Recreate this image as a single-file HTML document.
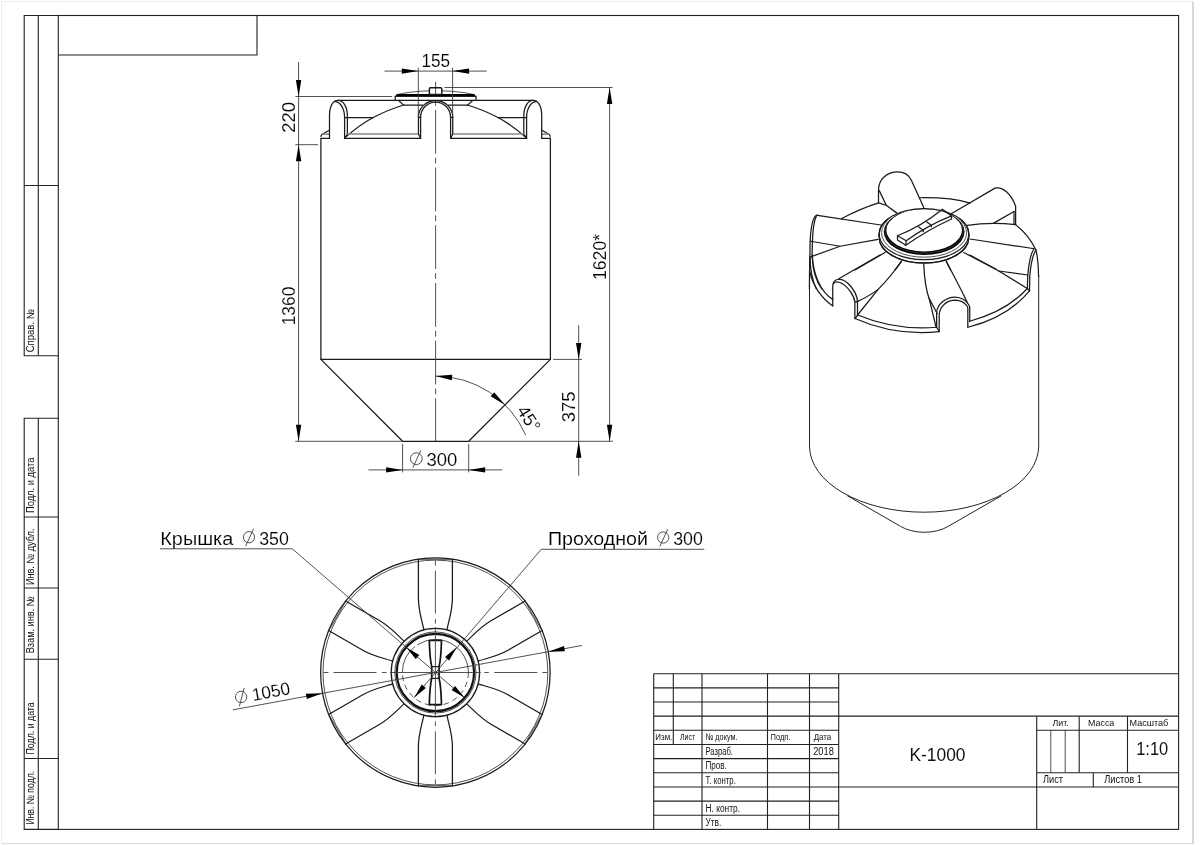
<!DOCTYPE html>
<html lang="ru"><head><meta charset="utf-8"><title>K-1000</title>
<style>
html,body{margin:0;padding:0;background:#fff;}
body{width:1200px;height:845px;overflow:hidden;position:relative;}
svg{position:absolute;left:0;top:0;display:block;will-change:transform;}
.f{stroke:#222;stroke-width:1.1;fill:none;}
.t{stroke:#3a3a3a;stroke-width:0.88;fill:none;}
.m{stroke:#1a1a1a;stroke-width:1.25;fill:none;stroke-linecap:round;stroke-linejoin:round;}
.n{stroke:#222;stroke-width:1.0;fill:none;}
.k{stroke:#111;stroke-width:1.9;fill:none;}
.g{stroke:#888;stroke-width:1.6;fill:none;}
.ar{fill:#000;stroke:none;}
.m,.t,.k,.g{vector-effect:non-scaling-stroke;}
text{fill:#111;}
.d{font-family:"Liberation Sans", "DejaVu Sans", sans-serif;stroke:#fff;stroke-width:.12px;fill:#000;}
.s{font-family:"Liberation Sans", sans-serif;}
</style></head><body>
<svg width="1200" height="845" viewBox="0 0 1200 845">
<rect x="1.5" y="1.5" width="1191.5" height="842" fill="none" stroke="#ececec" stroke-width="1"/>
<line x1="1193" y1="2" x2="1193" y2="844" stroke="#cfcfcf" stroke-width="1.4"/>
<line x1="2" y1="843.6" x2="1193" y2="843.6" stroke="#dedede" stroke-width="1.2"/>
<rect class="f" x="58.3" y="15.5" width="1120.3" height="813.9"/>
<path class="f" d="M58.3,55 H257 V15.5" />
<path class="f" d="M58.3,15.5 H24.2 V355.8 H58.3" />
<path class="f" d="M58.3,418.3 H24.2 V829.4 H58.3" />
<line class="f" x1="38.30" y1="15.50" x2="38.30" y2="355.80" />
<line class="f" x1="24.20" y1="185.50" x2="58.30" y2="185.50" />
<line class="f" x1="38.30" y1="418.30" x2="38.30" y2="829.40" />
<line class="f" x1="24.20" y1="517.00" x2="58.30" y2="517.00" />
<line class="f" x1="24.20" y1="588.00" x2="58.30" y2="588.00" />
<line class="f" x1="24.20" y1="659.30" x2="58.30" y2="659.30" />
<line class="f" x1="24.20" y1="758.50" x2="58.30" y2="758.50" />
<text class="s" x="34.40" y="352.30" font-size="10.6" text-anchor="start" transform="rotate(-90 34.40 352.30)" textLength="43.3" lengthAdjust="spacingAndGlyphs" >Справ. №</text>
<text class="s" x="34.40" y="513.10" font-size="10.6" text-anchor="start" transform="rotate(-90 34.40 513.10)" textLength="55.6" lengthAdjust="spacingAndGlyphs" >Подл. и дата</text>
<text class="s" x="34.40" y="585.10" font-size="10.6" text-anchor="start" transform="rotate(-90 34.40 585.10)" textLength="56.6" lengthAdjust="spacingAndGlyphs" >Инв. № дубл.</text>
<text class="s" x="34.40" y="653.30" font-size="10.6" text-anchor="start" transform="rotate(-90 34.40 653.30)" textLength="57" lengthAdjust="spacingAndGlyphs" >Взам. инв. №</text>
<text class="s" x="34.40" y="754.50" font-size="10.6" text-anchor="start" transform="rotate(-90 34.40 754.50)" textLength="52.2" lengthAdjust="spacingAndGlyphs" >Подл. и дата</text>
<text class="s" x="34.40" y="824.60" font-size="10.6" text-anchor="start" transform="rotate(-90 34.40 824.60)" textLength="53.7" lengthAdjust="spacingAndGlyphs" >Инв. № подл.</text>
<line class="f" x1="653.70" y1="673.70" x2="838.70" y2="673.70" />
<line class="f" x1="653.70" y1="687.85" x2="838.70" y2="687.85" />
<line class="f" x1="653.70" y1="702.01" x2="838.70" y2="702.01" />
<line class="f" x1="653.70" y1="716.16" x2="838.70" y2="716.16" />
<line class="f" x1="653.70" y1="730.32" x2="838.70" y2="730.32" />
<line class="f" x1="653.70" y1="744.47" x2="838.70" y2="744.47" />
<line class="f" x1="653.70" y1="758.63" x2="838.70" y2="758.63" />
<line class="f" x1="653.70" y1="772.78" x2="838.70" y2="772.78" />
<line class="f" x1="653.70" y1="786.94" x2="838.70" y2="786.94" />
<line class="f" x1="653.70" y1="801.09" x2="838.70" y2="801.09" />
<line class="f" x1="653.70" y1="815.25" x2="838.70" y2="815.25" />
<line class="f" x1="653.70" y1="673.70" x2="653.70" y2="829.40" />
<line class="f" x1="673.30" y1="673.70" x2="673.30" y2="744.47" />
<line class="f" x1="702.00" y1="673.70" x2="702.00" y2="829.40" />
<line class="f" x1="767.50" y1="673.70" x2="767.50" y2="829.40" />
<line class="f" x1="809.50" y1="673.70" x2="809.50" y2="829.40" />
<line class="f" x1="838.70" y1="673.70" x2="838.70" y2="829.40" />
<line class="f" x1="838.70" y1="673.70" x2="1178.60" y2="673.70" />
<line class="f" x1="838.70" y1="716.16" x2="1178.60" y2="716.16" />
<line class="f" x1="838.70" y1="786.94" x2="1178.60" y2="786.94" />
<line class="f" x1="1036.70" y1="716.16" x2="1036.70" y2="829.40" />
<line class="f" x1="1036.70" y1="730.32" x2="1178.60" y2="730.32" />
<line class="f" x1="1036.70" y1="772.78" x2="1178.60" y2="772.78" />
<line class="f" x1="1079.20" y1="716.16" x2="1079.20" y2="772.78" />
<line class="f" x1="1127.50" y1="716.16" x2="1127.50" y2="772.78" />
<line class="t" x1="1050.80" y1="730.32" x2="1050.80" y2="772.78" />
<line class="t" x1="1065.20" y1="730.32" x2="1065.20" y2="772.78" />
<line class="f" x1="1093.30" y1="772.78" x2="1093.30" y2="786.94" />
<text class="s" x="655.30" y="740.20" font-size="9.6" text-anchor="start" textLength="17" lengthAdjust="spacingAndGlyphs" >Изм.</text>
<text class="s" x="680.00" y="740.20" font-size="9.6" text-anchor="start" textLength="15.2" lengthAdjust="spacingAndGlyphs" >Лист</text>
<text class="s" x="705.50" y="740.20" font-size="9.6" text-anchor="start" textLength="32" lengthAdjust="spacingAndGlyphs" >№ докум.</text>
<text class="s" x="770.50" y="740.20" font-size="9.6" text-anchor="start" textLength="20" lengthAdjust="spacingAndGlyphs" >Подп.</text>
<text class="s" x="813.70" y="740.20" font-size="9.6" text-anchor="start" textLength="17.6" lengthAdjust="spacingAndGlyphs" >Дата</text>
<text class="s" x="705.50" y="755.00" font-size="10" text-anchor="start" textLength="27.5" lengthAdjust="spacingAndGlyphs" >Разраб.</text>
<text class="s" x="813.20" y="755.00" font-size="10" text-anchor="start" textLength="20.6" lengthAdjust="spacingAndGlyphs" >2018</text>
<text class="s" x="705.50" y="769.30" font-size="10" text-anchor="start" textLength="21.3" lengthAdjust="spacingAndGlyphs" >Пров.</text>
<text class="s" x="705.50" y="783.60" font-size="10" text-anchor="start" textLength="30.3" lengthAdjust="spacingAndGlyphs" >Т. контр.</text>
<text class="s" x="705.50" y="812.00" font-size="10" text-anchor="start" textLength="34.5" lengthAdjust="spacingAndGlyphs" >Н. контр.</text>
<text class="s" x="705.50" y="826.20" font-size="10" text-anchor="start" textLength="15.8" lengthAdjust="spacingAndGlyphs" >Утв.</text>
<text class="s" x="1052.50" y="726.30" font-size="9.6" text-anchor="start" textLength="16.3" lengthAdjust="spacingAndGlyphs" >Лит.</text>
<text class="s" x="1088.00" y="726.30" font-size="9.6" text-anchor="start" textLength="26.3" lengthAdjust="spacingAndGlyphs" >Масса</text>
<text class="s" x="1129.50" y="726.30" font-size="9.6" text-anchor="start" textLength="38.8" lengthAdjust="spacingAndGlyphs" >Масштаб</text>
<text class="s" x="1043.00" y="782.50" font-size="10" text-anchor="start" textLength="20" lengthAdjust="spacingAndGlyphs" >Лист</text>
<text class="s" x="1104.20" y="782.50" font-size="10" text-anchor="start" textLength="37.8" lengthAdjust="spacingAndGlyphs" >Листов 1</text>
<text class="s" x="1136.20" y="755.00" font-size="18" text-anchor="start" textLength="32" lengthAdjust="spacingAndGlyphs" >1:10</text>
<text class="s" x="909.50" y="760.50" font-size="17.5" text-anchor="start" textLength="56" lengthAdjust="spacingAndGlyphs" >K-1000</text>
<path class="m" d="M320.9,138.3 V359.4 L402.6,441.3 H468.7 L550.4,359.4 V138.3" />
<line class="m" x1="320.90" y1="359.40" x2="550.40" y2="359.40" />
<line class="t" x1="435.60" y1="81.80" x2="435.60" y2="96.20" />
<line class="t" x1="435.6" y1="100" x2="435.6" y2="441.3" stroke-dasharray="5.8 4.1 43.7 4.1"/>
<path class="m" d="M320.90,138.3 H329.50" />
<path class="m" d="M321.00,136.4 Q321.20,135 322.30,134.3 L329.30,130.2" />
<line class="g" x1="322.50" y1="134.20" x2="329.30" y2="134.20" />
<path class="m" d="M329.50,138.3 V115.5 C329.50,106 333.00,100.4 338.00,100.4 C343.60,100.4 347.40,107 347.40,116.5 V134 L344.50,138.3" />
<path class="m" d="M334.60,101.4 C340.50,102 344.60,108.5 344.60,117.5 V138.3" />
<line class="m" x1="338.00" y1="100.40" x2="435.60" y2="100.40" />
<line class="m" x1="344.60" y1="117.50" x2="373.20" y2="117.50" />
<path class="m" d="M344.80,137.9 C356.00,128 366.00,121.3 373.20,117.5 C383.00,112.3 394.00,108 403.80,105" />
<line class="g" x1="347.40" y1="134.00" x2="418.40" y2="134.00" />
<line class="m" x1="344.50" y1="138.30" x2="420.60" y2="138.30" />
<path class="m" d="M420.60,138.3 L418.45,134 V117.3 C418.45,108 426.00,100.5 435.6,100.5" />
<path class="m" d="M420.60,138.3 V117.3 C420.60,109 427.30,102 435.6,102" />
<line class="m" x1="418.45" y1="117.30" x2="420.60" y2="117.30" />
<path class="m" d="M395.20,96.2 V100.4" />
<path class="m" d="M398.60,100.5 L403.60,105.1 H422.60" />
<path class="t" d="M396.40,94.8 Q410.00,91.4 429.20,90.8" />
<path class="m" d="M550.30,138.3 H541.70" />
<path class="m" d="M550.20,136.4 Q550.00,135 548.90,134.3 L541.90,130.2" />
<line class="g" x1="548.70" y1="134.20" x2="541.90" y2="134.20" />
<path class="m" d="M541.70,138.3 V115.5 C541.70,106 538.20,100.4 533.20,100.4 C527.60,100.4 523.80,107 523.80,116.5 V134 L526.70,138.3" />
<path class="m" d="M536.60,101.4 C530.70,102 526.60,108.5 526.60,117.5 V138.3" />
<line class="m" x1="533.20" y1="100.40" x2="435.60" y2="100.40" />
<line class="m" x1="526.60" y1="117.50" x2="498.00" y2="117.50" />
<path class="m" d="M526.40,137.9 C515.20,128 505.20,121.3 498.00,117.5 C488.20,112.3 477.20,108 467.40,105" />
<line class="g" x1="523.80" y1="134.00" x2="452.80" y2="134.00" />
<line class="m" x1="526.70" y1="138.30" x2="450.60" y2="138.30" />
<path class="m" d="M450.60,138.3 L452.75,134 V117.3 C452.75,108 445.20,100.5 435.6,100.5" />
<path class="m" d="M450.60,138.3 V117.3 C450.60,109 443.90,102 435.6,102" />
<line class="m" x1="452.75" y1="117.30" x2="450.60" y2="117.30" />
<path class="m" d="M476.00,96.2 V100.4" />
<path class="m" d="M472.60,100.5 L467.60,105.1 H448.60" />
<path class="t" d="M474.80,94.8 Q461.20,91.4 442.00,90.8" />
<path class="ar" d="M395.4,96.6 L397.2,94.2 H474 L475.8,96.6 Z" />
<path class="ar" d="M395.6,96.8 H475.6 L474.2,94 H397 Z" />
<rect class="m" x="429.4" y="87.8" width="12.4" height="6.6" rx="1" style="stroke-width:1.5"/>
<line class="t" x1="418.30" y1="67.60" x2="418.30" y2="117.30" />
<line class="t" x1="452.60" y1="67.60" x2="452.60" y2="117.30" />
<line class="t" x1="384.50" y1="71.10" x2="486.60" y2="71.10" />
<polygon class="ar" points="418.30,71.10 401.80,73.80 401.80,68.40"/>
<polygon class="ar" points="452.60,71.10 469.10,68.40 469.10,73.80"/>
<text class="d" x="421.55" y="66.60" font-size="18.5" text-anchor="start" textLength="28.6" lengthAdjust="spacingAndGlyphs" >155</text>
<line class="t" x1="298.60" y1="62.00" x2="298.60" y2="441.30" />
<line class="t" x1="295.40" y1="96.50" x2="392.20" y2="96.50" />
<line class="t" x1="295.40" y1="144.70" x2="318.00" y2="144.70" />
<polygon class="ar" points="298.60,96.50 295.90,80.00 301.30,80.00"/>
<polygon class="ar" points="298.60,144.70 301.30,161.20 295.90,161.20"/>
<text class="d" x="295.20" y="132.80" font-size="18.5" text-anchor="start" transform="rotate(-90 295.20 132.80)" >220</text>
<polygon class="ar" points="298.60,441.30 295.90,424.80 301.30,424.80"/>
<line class="t" x1="295.20" y1="441.30" x2="402.60" y2="441.30" />
<text class="d" x="295.20" y="325.30" font-size="18.5" text-anchor="start" transform="rotate(-90 295.20 325.30)" textLength="38.6" lengthAdjust="spacingAndGlyphs" >1360</text>
<line class="t" x1="444.40" y1="87.50" x2="612.60" y2="87.50" />
<line class="t" x1="609.60" y1="87.50" x2="609.60" y2="441.30" />
<polygon class="ar" points="609.60,87.50 612.30,104.00 606.90,104.00"/>
<polygon class="ar" points="609.60,441.30 606.90,424.80 612.30,424.80"/>
<line class="t" x1="468.70" y1="441.30" x2="612.80" y2="441.30" />
<text class="d" x="606.00" y="280.00" font-size="18.5" text-anchor="start" transform="rotate(-90 606.00 280.00)" textLength="46.1" lengthAdjust="spacingAndGlyphs" >1620*</text>
<line class="t" x1="578.70" y1="325.20" x2="578.70" y2="475.70" />
<line class="t" x1="553.20" y1="359.40" x2="582.00" y2="359.40" />
<polygon class="ar" points="578.70,359.40 576.00,342.90 581.40,342.90"/>
<polygon class="ar" points="578.70,441.30 581.40,457.80 576.00,457.80"/>
<text class="d" x="574.80" y="422.30" font-size="18.5" text-anchor="start" transform="rotate(-90 574.80 422.30)" >375</text>
<line class="t" x1="402.60" y1="443.90" x2="402.60" y2="472.40" />
<line class="t" x1="468.70" y1="443.90" x2="468.70" y2="472.40" />
<line class="t" x1="368.40" y1="469.90" x2="502.30" y2="469.90" />
<polygon class="ar" points="402.60,469.90 386.10,472.60 386.10,467.20"/>
<polygon class="ar" points="468.70,469.90 485.20,467.20 485.20,472.60"/>
<g><circle class="t" cx="416.30" cy="458.70" r="5.9"/><line class="t" x1="412.90" y1="467.70" x2="420.90" y2="450.30"/></g>
<text class="d" x="426.50" y="466.00" font-size="18.5" text-anchor="start" >300</text>
<path class="t" d="M435.60,376.10 A98.3,98.3 0 0 1 525.75,435.20" />
<polygon class="ar" points="435.60,376.10 452.27,374.85 451.80,380.23"/>
<polygon class="ar" points="505.11,404.89 490.73,396.35 494.20,392.22"/>
<text class="d" x="516.30" y="410.50" font-size="18" text-anchor="start" transform="rotate(57 516.30 410.50)" >45°</text>
<circle class="m" cx="435.4" cy="672.5" r="114.75"/>
<circle class="t" cx="435.4" cy="672.5" r="112.4"/>
<g transform="rotate(0 435.4 672.5)">
<path class="m" d="M452.40,559.00 V598.50 C452.40,610.50 448.90,620.50 447.00,629.30" />
<path class="m" d="M418.40,559.00 V598.50 C418.40,610.50 421.90,620.50 423.80,629.30" />
<line class="t" x1="418.40" y1="559.30" x2="452.40" y2="559.30" />
</g>
<g transform="rotate(60 435.4 672.5)">
<path class="m" d="M452.40,559.00 V598.50 C452.40,610.50 448.90,620.50 447.00,629.30" />
<path class="m" d="M418.40,559.00 V598.50 C418.40,610.50 421.90,620.50 423.80,629.30" />
<line class="t" x1="418.40" y1="559.30" x2="452.40" y2="559.30" />
</g>
<g transform="rotate(120 435.4 672.5)">
<path class="m" d="M452.40,559.00 V598.50 C452.40,610.50 448.90,620.50 447.00,629.30" />
<path class="m" d="M418.40,559.00 V598.50 C418.40,610.50 421.90,620.50 423.80,629.30" />
<line class="t" x1="418.40" y1="559.30" x2="452.40" y2="559.30" />
</g>
<g transform="rotate(180 435.4 672.5)">
<path class="m" d="M452.40,559.00 V598.50 C452.40,610.50 448.90,620.50 447.00,629.30" />
<path class="m" d="M418.40,559.00 V598.50 C418.40,610.50 421.90,620.50 423.80,629.30" />
<line class="t" x1="418.40" y1="559.30" x2="452.40" y2="559.30" />
</g>
<g transform="rotate(240 435.4 672.5)">
<path class="m" d="M452.40,559.00 V598.50 C452.40,610.50 448.90,620.50 447.00,629.30" />
<path class="m" d="M418.40,559.00 V598.50 C418.40,610.50 421.90,620.50 423.80,629.30" />
<line class="t" x1="418.40" y1="559.30" x2="452.40" y2="559.30" />
</g>
<g transform="rotate(300 435.4 672.5)">
<path class="m" d="M452.40,559.00 V598.50 C452.40,610.50 448.90,620.50 447.00,629.30" />
<path class="m" d="M418.40,559.00 V598.50 C418.40,610.50 421.90,620.50 423.80,629.30" />
<line class="t" x1="418.40" y1="559.30" x2="452.40" y2="559.30" />
</g>
<circle class="m" cx="435.4" cy="672.5" r="44.2" fill="#fff"/>
<circle class="t" cx="435.4" cy="672.5" r="40.6"/>
<circle class="k" cx="435.4" cy="672.5" r="38.7" style="stroke-width:2.2"/>
<path class="t" d="M402.4,672.5 A33,33 0 0 1 468.4,672.5" stroke-dasharray="30 2.5 60 0"/>
<path class="t" d="M468.4,672.5 A33,33 0 0 1 402.4,672.5" stroke-dasharray="5.5 4"/>
<path class="k" d="M429.29999999999995,640.4 H441.5 Q441.0,658.5 439.09999999999997,666.7 V678.3 Q441.0,686.5 441.5,704.6 H429.29999999999995 Q429.79999999999995,686.5 431.7,678.3 V666.7 Q429.79999999999995,658.5 429.29999999999995,640.4 Z" style="stroke-width:1.7;stroke-linejoin:round"/>
<line class="m" x1="431.70" y1="666.70" x2="439.10" y2="666.70" />
<line class="m" x1="431.70" y1="678.30" x2="439.10" y2="678.30" />
<g transform="rotate(0 435.4 672.5)">
<line class="t" x1="323.40" y1="672.50" x2="328.50" y2="672.50" />
<line class="t" x1="333.50" y1="672.50" x2="376.50" y2="672.50" />
<line class="t" x1="382.00" y1="672.50" x2="386.50" y2="672.50" />
<line class="t" x1="390.00" y1="672.50" x2="480.80" y2="672.50" />
<line class="t" x1="484.30" y1="672.50" x2="488.80" y2="672.50" />
<line class="t" x1="494.30" y1="672.50" x2="537.30" y2="672.50" />
<line class="t" x1="542.30" y1="672.50" x2="547.40" y2="672.50" />
</g>
<g transform="rotate(90 435.4 672.5)">
<line class="t" x1="323.40" y1="672.50" x2="328.50" y2="672.50" />
<line class="t" x1="333.50" y1="672.50" x2="376.50" y2="672.50" />
<line class="t" x1="382.00" y1="672.50" x2="386.50" y2="672.50" />
<line class="t" x1="390.00" y1="672.50" x2="480.80" y2="672.50" />
<line class="t" x1="484.30" y1="672.50" x2="488.80" y2="672.50" />
<line class="t" x1="494.30" y1="672.50" x2="537.30" y2="672.50" />
<line class="t" x1="542.30" y1="672.50" x2="547.40" y2="672.50" />
</g>
<line class="t" x1="232.82" y1="709.86" x2="581.93" y2="645.47" />
<polygon class="ar" points="322.55,693.31 306.82,698.96 305.84,693.65"/>
<polygon class="ar" points="548.25,651.69 563.98,646.04 564.96,651.35"/>
<g transform="rotate(-10.45 232.82 709.86)">
<g><circle class="t" cx="243.32" cy="698.66" r="5.7"/><line class="t" x1="239.92" y1="707.66" x2="247.92" y2="690.26"/></g>
<text class="d" x="254.42" y="704.86" font-size="17.8" text-anchor="start" textLength="38.4" lengthAdjust="spacingAndGlyphs" >1050</text>
</g>
<path class="t" d="M160,548.8 H292.3 L464.65,697.84" />
<polygon class="ar" points="406.15,647.16 419.25,654.94 415.72,659.02"/>
<polygon class="ar" points="464.65,697.84 451.55,690.06 455.08,685.98"/>
<text class="d" x="160.30" y="544.60" font-size="17.6" text-anchor="start" textLength="73" lengthAdjust="spacingAndGlyphs" >Крышка</text>
<g><circle class="t" cx="249.00" cy="537.20" r="5.6"/><line class="t" x1="245.60" y1="546.20" x2="253.60" y2="528.80"/></g>
<text class="d" x="259.20" y="544.60" font-size="17.8" text-anchor="start" >350</text>
<path class="t" d="M704.3,549.3 H541.3 L414.06,697.67" />
<polygon class="ar" points="456.74,647.33 449.10,660.52 444.98,657.03"/>
<polygon class="ar" points="414.06,697.67 421.70,684.48 425.82,687.97"/>
<text class="d" x="548.00" y="545.00" font-size="17.6" text-anchor="start" textLength="100" lengthAdjust="spacingAndGlyphs" >Проходной</text>
<g><circle class="t" cx="663.20" cy="537.50" r="5.6"/><line class="t" x1="659.80" y1="546.50" x2="667.80" y2="529.10"/></g>
<text class="d" x="673.20" y="545.00" font-size="17.8" text-anchor="start" >300</text>
<path class="n" d="M809.5,257 V446 A114.6,66.2 0 0 0 1038.7,446 V275" />
<path class="n" d="M847.3,495.7 L900.5,526.3 A32.8,19 0 0 0 948.3,526.3 L1001.5,495.7" />
<g transform="translate(800,165) scale(0.125000)">
<path class="m" d="M628,300 V200 C628,110 700,55 780,55 C830,55 868,75 890,120 L990,340" />
<path class="m" d="M634,205 L690,322 L775,385" />
<path class="m" d="M330,430 Q480,350 628,303 L690,322" />
<path class="m" d="M140,403 L660,482" />
<path class="m" d="M85,610 L320,650" />
<path class="m" d="M85,735 L320,650 L625,595" />
<path class="m" d="M440,840 L680,700" />
<path class="m" d="M760,840 L812,772" />
</g>
<g transform="translate(795,205) scale(0.099404)">
<path class="m" d="M225,100 C185,110 160,200 152,370 L150,520 C146,640 145,760 145,845" />
<path class="m" d="M215,110 C190,160 178,280 175,370 L172,520 C178,640 215,770 270,845" />
<path class="m" d="M150,520 C152,640 175,760 215,845" />
</g>
<g transform="translate(930,165) scale(0.125000)">
<path class="m" d="M170,390 L520,185 C580,170 650,230 685,330 V475" />
<path class="m" d="M672,372 V470" />
<path class="m" d="M672,372 L510,465" />
<path class="m" d="M-85,262 Q170,258 320,305" />
<path class="m" d="M298,483 Q480,455 685,477" />
<path class="m" d="M685,477 Q790,560 843,672" />
<path class="m" d="M320,592 L835,670" />
<path class="m" d="M270,700 L530,835" />
<path class="m" d="M130,770 L165,840" />
</g>
<g transform="translate(800,255) scale(0.125000)">
<path class="m" d="M78,130 C100,250 180,350 262,408" />
<path class="m" d="M98,0 C105,150 160,290 262,355" />
<path class="m" d="M262,406 V255 C262,225 275,200 300,196 C330,190 365,205 395,238 C425,270 445,305 455,340 C458,352 460,365 460,380 V476" />
<path class="m" d="M268,228 C280,215 300,213 315,218 C345,228 380,260 405,295 C425,325 436,350 439,375 V505" />
<path class="m" d="M439,375 L460,372" />
<path class="m" d="M310,190 L640,0" />
<path class="m" d="M455,375 Q560,325 625,275 C700,200 770,110 810,50" />
<path class="m" d="M462,478 L625,275" />
<path class="m" d="M440,508 Q760,650 1113,613" />
<path class="m" d="M462,480 Q760,605 1093,578" />
<path class="m" d="M440,508 L462,480" />
<path class="m" d="M990,75 C995,200 1015,300 1035,355 L1088,575" />
<path class="m" d="M1032,345 L1097,468" />
</g>
<g transform="translate(930,255) scale(0.125000)">
<path class="m" d="M320,0 L550,128 L778,268" />
<path class="m" d="M550,128 L782,160" />
<path class="m" d="M302.6,578 Q620,500 798,285" />
<path class="m" d="M318,530 Q610,450 775,272" />
<path class="m" d="M53,578 V458 C58,395 125,336 201,336 C250,337 290,365 305,391 C313,400 318,410 318,425 V531" />
<path class="m" d="M73.5,612 V474 C80,410 135,361 201,361 C245,362 280,385 295,407 C300,412 302.6,420 302.6,430 V578" />
<path class="m" d="M53,578 L73.5,612" />
<path class="m" d="M130,50 C170,130 232,240 297,377" />
</g>
<g transform="translate(870,195) scale(0.091667)">
<path class="m" d="M100,427 V465 A489,279 0 0 0 1078,465 V427 A489,279 0 0 0 100,427 Z" fill="#fff" stroke="none"/>
<path class="m" d="M100,427 V452 M1078,427 V452" />
<path class="m" d="M1067.3,520.0 A489,279 0 0 1 110.7,520.0" />
<path class="m" d="M974.3,255.2 A489,279 0 1 1 203.7,255.2" />
<path class="t" d="M991.8,280.5 A464,265 0 1 1 188.2,280.5" />
<path class="ar" d="M150,402 A441,252 0 1 0 1032,402 A441,252 0 1 0 150,402 Z M178,384 A413,232 0 1 1 1004,384 A413,232 0 1 1 178,384 Z" fill-rule="evenodd"/>
<path class="t" d="M992.2,309.6 A427,241 0 1 1 189.8,309.6" stroke="#000"/>
<path class="m" d="M300,445 Q567,337 790,155 L890,228 Q628,330 395,500 Z" fill="#fff"/>
<path class="m" d="M300,445 V490 L390,548 L395,500" />
<path class="m" d="M390,548 Q650,370 890,262 V228" />
<path class="m" d="M528,347 L581,384 M616,293 L669,330 M581,384 V400 M669,330 V345" />
</g>
<g transform="translate(1000,230) scale(0.082850)">
<path class="m" d="M435,240 C400,290 375,380 360,550 L356,725" />
<path class="m" d="M405,235 C370,290 350,380 335,550 L330,705" />
<path class="m" d="M432,238 C450,300 462,400 465,540 L466,560" />
<path class="m" d="M330,705 L356,733" />
</g>
</svg>
</body></html>
